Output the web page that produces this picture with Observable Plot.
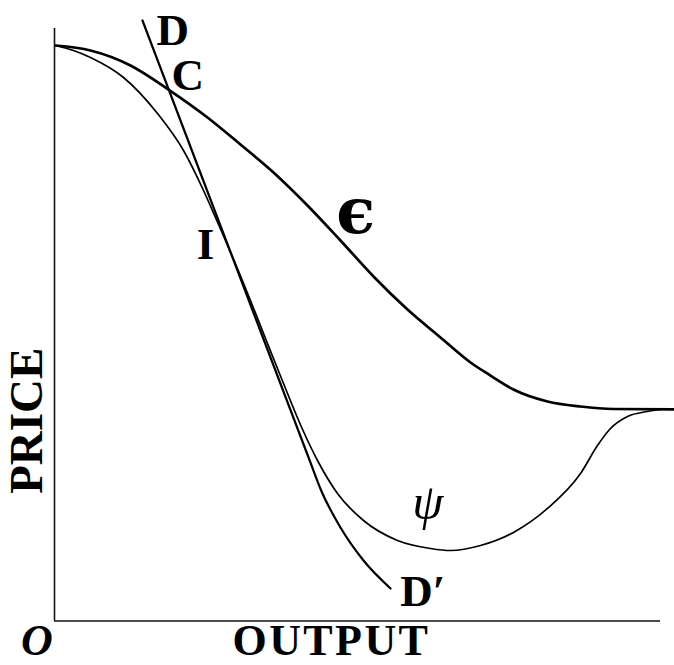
<!DOCTYPE html>
<html>
<head>
<meta charset="utf-8">
<script src="https://cdn.jsdelivr.net/npm/d3@7"></script>
<script src="https://cdn.jsdelivr.net/npm/@observablehq/plot@0.6"></script>
<style>
  html, body { margin: 0; padding: 0; background: #fff; }
  #chart svg { display: block; }
</style>
</head>
<body>
<div id="chart"></div>
<script>
// Curve ε
const epsOutput = [0.2, 5.94, 12.54, 18.81, 25.25, 30.69, 36.14, 41.75, 47.19, 52.64, 58.25, 63.70, 68.65, 71.95, 75.74, 81.35, 86.80, 92.24, 102.3];
const epsPrice  = [97.13, 96.29, 93.76, 89.70, 84.98, 80.42, 75.70, 70.13, 64.22, 58.14, 52.57, 47.85, 43.63, 41.43, 39.07, 37.05, 36.20, 35.78, 35.70];

// Curve ψ
const psiOutput = [0.2, 3.14, 5.94, 11.39, 17.0, 21.29, 24.59, 26.57, 28.94, 32.34, 34.95, 37.79, 41.01, 43.40, 46.70, 50.99, 56.60, 62.05, 65.35, 70.30, 75.74, 81.35, 86.80, 89.60, 91.75, 94.55, 97.85, 100];
const psiPrice  = [97.13, 96.29, 95.11, 91.73, 85.65, 79.41, 72.66, 68.10, 62.53, 54.09, 47.34, 40.08, 32.15, 27.09, 21.52, 16.96, 13.59, 12.24, 11.90, 12.74, 14.95, 18.99, 24.89, 29.62, 32.49, 34.51, 35.36, 35.70];

// Line D–D'
const ddOutput = [14.52, 28.94, 42.11, 44.0, 47.19, 50.99, 55.45];
const ddPrice  = [101.35, 62.53, 27.09, 22.03, 15.78, 10.21, 5.49];

// Point labels
const labelText   = ["D", "C", "I", "ϵ", "ψ", "D′"];
const labelOutput = [19.5, 22.0, 24.9, 49.7, 61.6, 60.8];
const labelPrice  = [99.6, 92.0, 63.6, 69.0, 20.0, 5.0];

const eps = epsOutput.map((x, i) => ({x, y: epsPrice[i]}));
const psi = psiOutput.map((x, i) => ({x, y: psiPrice[i]}));
const dd  = ddOutput.map((x, i) => ({x, y: ddPrice[i]}));
const labels = labelText.map((t, i) => ({t, x: labelOutput[i], y: labelPrice[i]}));

const serif = "Liberation Serif, Times New Roman, serif";

const chart = Plot.plot({
  width: 674,
  height: 665,
  marginLeft: 54,
  marginRight: 14,
  marginTop: 28,
  marginBottom: 44.5,
  x: {domain: [0, 100], axis: null},
  y: {domain: [0, 100], axis: null},
  style: {background: "#fff", overflow: "visible"},
  marks: [
    Plot.ruleX([0], {y1: 0, y2: 100, stroke: "#111", strokeWidth: 1.6}),
    Plot.ruleY([0], {x1: 0, x2: 100, stroke: "#111", strokeWidth: 1.6}),
    Plot.line(psi, {x: "x", y: "y", curve: "monotone-x", stroke: "#000", strokeWidth: 1.7}),
    Plot.line(eps, {x: "x", y: "y", curve: "monotone-x", stroke: "#000", strokeWidth: 2.7}),
    Plot.line(dd,  {x: "x", y: "y", curve: "monotone-x", stroke: "#000", strokeWidth: 2.2}),
    Plot.text(labels.filter(d => d.t !== "ψ" && d.t !== "ϵ"), {
      x: "x", y: "y", text: "t", fontFamily: serif, fontWeight: "bold",
      fontSize: 45, fill: "#000", textAnchor: "middle", lineAnchor: "middle"
    }),
    Plot.text(labels.filter(d => d.t === "ϵ"), {
      x: "x", y: "y", text: "t", fontFamily: "DejaVu Serif, serif", fontWeight: "bold",
      fontSize: 64, fill: "#000", textAnchor: "middle", lineAnchor: "middle"
    }),
    Plot.text(labels.filter(d => d.t === "ψ"), {
      x: "x", y: "y", text: "t", fontFamily: serif, fontStyle: "italic",
      fontSize: 50, fill: "#000", textAnchor: "middle", lineAnchor: "middle"
    }),
    Plot.text(["PRICE"], {
      x: -4.5, y: 33.8, text: d => d, rotate: -90, fontFamily: serif, fontWeight: "bold",
      fontSize: 47, fill: "#000", textAnchor: "middle", lineAnchor: "middle"
    }),
    Plot.text(["OUTPUT"], {
      x: 45.7, y: -3.44, text: d => d, fontFamily: serif, fontWeight: "bold",
      fontSize: 44, fill: "#000", textAnchor: "middle", lineAnchor: "middle"
    }),
    Plot.text(["O"], {
      x: -2.9, y: -3.44, text: d => d, fontFamily: serif, fontWeight: "bold", fontStyle: "italic",
      fontSize: 44, fill: "#000", textAnchor: "middle", lineAnchor: "middle"
    })
  ]
});
d3.select(chart).selectAll("text")
  .filter(function() { return this.textContent === "OUTPUT"; })
  .attr("letter-spacing", "2.4px");
document.getElementById("chart").appendChild(chart);
</script>
</body>
</html>
